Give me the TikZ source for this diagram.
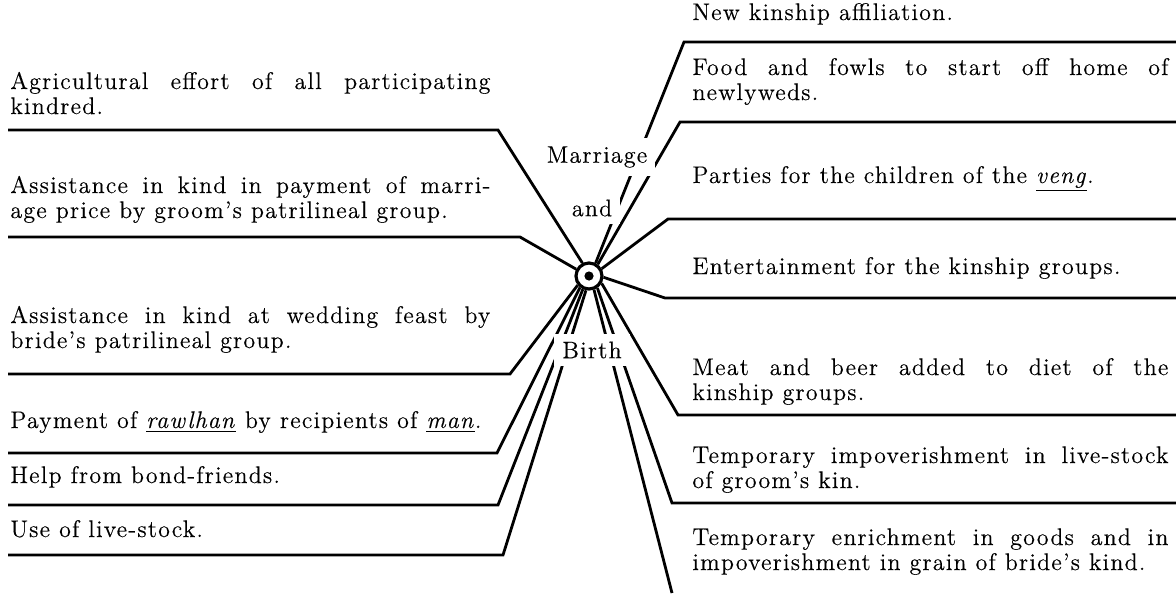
\documentclass[tikz,border=0pt]{standalone}
\usepackage{fontspec}
\setmainfont{Latin Modern Roman}[LetterSpace=5.0, FakeBold=0.3]
\usepackage{tikz}

\newlength{\du}
\setlength{\du}{0.5pt}
\newcommand{\notefont}{\fontsize{12}{12.5}\selectfont}

\tikzset{
  spoke/.style={line width=1.4pt, line join=miter},
  leftnote/.style={anchor=base west, inner sep=0pt, text width=240pt, align=justify, font=\notefont},
  rightnote/.style={anchor=base west, inner sep=0pt, text width=238pt, align=justify, font=\notefont},
  hublabel/.style={fill=white, inner sep=4pt, font=\notefont},
}

\begin{document}
\begin{tikzpicture}[x=\du,y=-\du]
\useasboundingbox (0,0) rectangle (1176,595);

% the hub
\node[circle, draw, line width=1.6pt, minimum size=13pt, inner sep=0pt] (hub) at (589,276) {};
\fill (hub.center) circle (2.3pt);

% left side texts
\node[leftnote] (agr) at (10,89) {Agricultural effort of all participating\linebreak kindred.};
\node[leftnote] (price) at (10,193) {Assistance in kind in payment of marri-\linebreak age price by groom's patrilineal group.};
\node[leftnote] (feast) at (10,323) {Assistance in kind at wedding feast by\linebreak bride's patrilineal group.};
\node[leftnote] (rawlhan) at (10,428) {Payment of \underline{\textit{rawlhan}} by recipients of \underline{\textit{man}}.};
\node[leftnote] (bond) at (10,483) {Help from bond-friends.};
\node[leftnote] (stock) at (10,537) {Use of live-stock.};

% right side texts
\node[rightnote] (kin) at (692,20) {New kinship affiliation.};
\node[rightnote] (fowls) at (692,75) {Food and fowls to start off home of\linebreak newlyweds.};
\node[rightnote] (veng) at (692,183) {Parties for the children of the \underline{\textit{veng}}.};
\node[rightnote] (fun) at (692,274) {Entertainment for the kinship groups.};
\node[rightnote] (meat) at (692,375) {Meat and beer added to diet of the\linebreak kinship groups.};
\node[rightnote] (poor) at (692,463) {Temporary impoverishment in live-stock\linebreak of groom's kin.};
\node[rightnote] (rich) at (692,545) {Temporary enrichment in goods and in\linebreak impoverishment in grain of bride's kind.};

% corners and free ends of the rules
\coordinate (k1) at (498,130);  \coordinate (e1) at (8,130);
\coordinate (k2) at (520,237);  \coordinate (e2) at (8,237);
\coordinate (k3) at (510,374);  \coordinate (e3) at (8,374);
\coordinate (k4) at (497,453);  \coordinate (e4) at (8,453);
\coordinate (k5) at (498,505);  \coordinate (e5) at (8,505);
\coordinate (k6) at (503,555);  \coordinate (e6) at (8,555);
\coordinate (k7) at (684,42);   \coordinate (e7) at (1176,42);
\coordinate (k8) at (680,122);  \coordinate (e8) at (1176,122);
\coordinate (k9) at (668,219);  \coordinate (e9) at (1176,219);
\coordinate (k10) at (665,298); \coordinate (e10) at (1176,298);
\coordinate (k11) at (678,415); \coordinate (e11) at (1176,415);
\coordinate (k12) at (672,503); \coordinate (e12) at (1176,503);
\coordinate (k13) at (672,593);

% spokes
\draw[spoke] (hub.117) -- (k1) -- (e1);
\draw[spoke] (hub.152) -- (k2) -- (e2);
\draw[spoke] (hub.219) -- (k3) -- (e3);
\draw[spoke] (hub.232) -- (k4) -- (e4);
\draw[spoke] (hub.245) -- (k5) -- (e5);
\draw[spoke] (hub.258) -- (k6) -- (e6);
\draw[spoke] (hub.63) -- (k7) -- (e7);
\draw[spoke] (hub.53) -- (k8) -- (e8);
\draw[spoke] (hub.30) -- (k9) -- (e9);
\draw[spoke] (hub.355) -- (k10) -- (e10);
\draw[spoke] (hub.330) -- (k11) -- (e11);
\draw[spoke] (hub.305) -- (k12) -- (e12);
\draw[spoke] (hub.290) -- (k13);

% labels over the spokes
\node[hublabel] (marriage) at (597,157) {Marriage};
\node[hublabel] (and) at (592,208) {and};
\node[hublabel] (birth) at (592,350) {Birth};
\end{tikzpicture}
\end{document}
